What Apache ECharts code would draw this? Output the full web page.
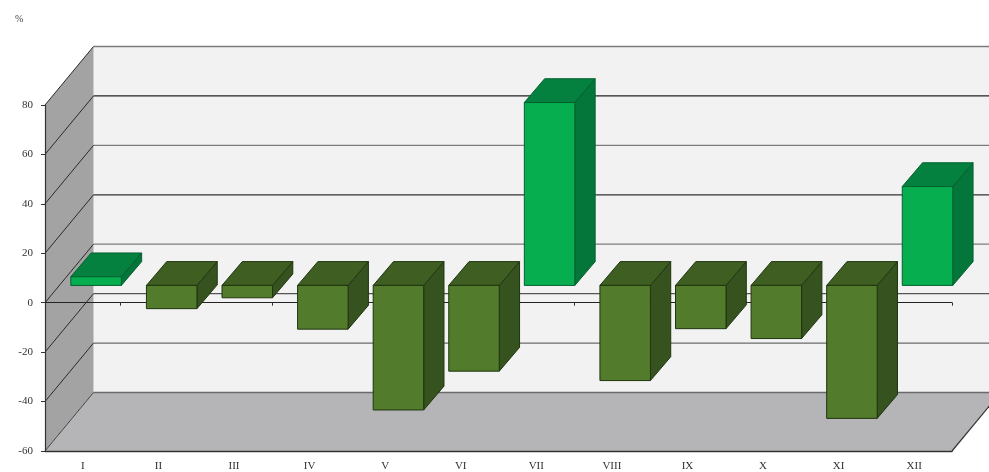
<!DOCTYPE html>
<html><head><meta charset="utf-8">
<style>html,body{margin:0;padding:0;background:#fff}#c{width:989px;height:472px}</style>
<script src="https://cdn.jsdelivr.net/npm/echarts@6/dist/echarts.min.js"></script>
</head><body><div id="c"></div>
<script>
const categories = ['I','II','III','IV','V','VI','VII','VIII','IX','X','XI','XII'];
const values = [3.5,-9.4,-5,-17.7,-50.4,-34.7,74,-38.5,-17.5,-21.5,-53.8,40];
const yTicks = [80,60,40,20,0,-20,-40,-60];
const backLineColors = ['#7c7c7c','#222222','#7c7c7c','#333333','#7c7c7c','#555555','#6a6a6a','#6a6a6a'];
const WALL_DX = 48.5, WALL_DY = -58.5;
const BAR_DX = 20.3, BAR_DY = -23.8, BAR_W = 50.5, BAR_SHIFT_X = 13.3, BAR_SHIFT_Y = -17.3;

const chart = echarts.init(document.getElementById('c'), null, {renderer:'canvas'});
const font = 'Liberation Serif';

function renderWalls(params, api){
  const cs = params.coordSys;
  const x0 = cs.x, x1 = cs.x + cs.width, yt = cs.y, yb = cs.y + cs.height;
  const bx0 = x0 + WALL_DX, bx1 = x1 + WALL_DX, byt = yt + WALL_DY, byb = yb + WALL_DY;
  const poly = (pts, fill) => ({type:'polygon', shape:{points:pts}, style:{fill, stroke:null}});
  return {type:'group', children:[
    poly([[bx0,byt],[bx1,byt],[bx1,byb],[bx0,byb]], '#f2f2f2'),
    poly([[x0,yt],[bx0,byt],[bx0,byb],[x0,yb]], '#a3a3a3'),
    poly([[x0,yb],[bx0,byb],[bx1,byb],[x1,yb]], '#b5b5b7'),
    {type:'line', shape:{x1:x0,y1:yb,x2:bx0,y2:byb}, style:{stroke:'#444',lineWidth:1}},
    {type:'line', shape:{x1:x1,y1:yb,x2:bx1,y2:byb}, style:{stroke:'#333',lineWidth:1.2}}
  ]};
}
function renderWallLine(params, api){
  const cs = params.coordSys;
  const v = api.value(0);
  const y = api.coord([0, v])[1];
  const x0 = cs.x, bx0 = x0 + WALL_DX, bx1 = cs.x + cs.width + WALL_DX, by = y + WALL_DY;
  const children = [
    {type:'line', shape:{x1:bx0,y1:by,x2:bx1,y2:by}, style:{stroke:backLineColors[params.dataIndex],lineWidth:1.3}}
  ];
  if (params.dataIndex < yTicks.length - 1) {
    children.push({type:'line', shape:{x1:x0,y1:y,x2:bx0,y2:by}, style:{stroke:'#2a2a2a',lineWidth:1}});
  }
  return {type:'group', children};
}
function renderBar(params, api){
  const v = api.value(1);
  const c = api.coord([api.value(0), 0]);
  const t = api.coord([api.value(0), v]);
  const x0 = c[0] + BAR_SHIFT_X - BAR_W/2, x1 = x0 + BAR_W;
  const yBase = c[1] + BAR_SHIFT_Y, yEnd = t[1] + BAR_SHIFT_Y;
  const yt = Math.min(yBase, yEnd), yb = Math.max(yBase, yEnd);
  const pos = v >= 0;
  const front = pos ? '#06ae50' : '#527c2c';
  const top = pos ? '#05813f' : '#3f5f22';
  const side = pos ? '#04763a' : '#36521f';
  const edge = pos ? '#03602f' : '#1f3510';
  const st = (fill) => ({fill, stroke:edge, lineWidth:1});
  return {type:'group', children:[
    {type:'polygon', shape:{points:[[x1,yt],[x1+BAR_DX,yt+BAR_DY],[x1+BAR_DX,yb+BAR_DY],[x1,yb]]}, style:st(side)},
    {type:'polygon', shape:{points:[[x0,yt],[x0+BAR_DX,yt+BAR_DY],[x1+BAR_DX,yt+BAR_DY],[x1,yt]]}, style:st(top)},
    {type:'rect', shape:{x:x0,y:yt,width:BAR_W,height:yb-yt}, style:st(front)}
  ]};
}

const axisTxt = {color:'#333', fontFamily:font, fontSize:11};
chart.setOption({
  animation:false,
  backgroundColor:'#fff',
  title:{text:'%', left:10, top:9, textStyle:{color:'#444', fontFamily:font, fontSize:10, fontWeight:'normal'}},
  grid:{left:45, right:37, top:105, bottom:20, containLabel:false},
  xAxis:[
    {type:'category', data:categories, position:'bottom', z:3,
     axisLine:{onZero:false, lineStyle:{color:'#444', width:1.3}}, axisTick:{show:false},
     axisLabel:Object.assign({interval:0, margin:10}, axisTxt), splitLine:{show:false}},
    {type:'category', data:categories, position:'bottom', z:3,
     axisLine:{onZero:true, lineStyle:{color:'#222', width:1.2}},
     axisTick:{show:true, inside:false, length:3, lineStyle:{color:'#333'}},
     axisLabel:{show:false}, splitLine:{show:false}},
    {type:'category', data:categories, position:'bottom', z:7,
     axisLine:{onZero:true, lineStyle:{color:'#111', width:1, opacity:0.4}},
     axisTick:{show:false}, axisLabel:{show:false}, splitLine:{show:false}}
  ],
  yAxis:{type:'value', min:-60, max:80, interval:20, z:3,
    axisLine:{show:true, lineStyle:{color:'#333', width:1.2}},
    axisTick:{show:true, length:4, lineStyle:{color:'#333'}},
    axisLabel:Object.assign({margin:12}, axisTxt), splitLine:{show:false}},
  series:[
    {type:'custom', name:'walls', z:0, silent:true, renderItem:renderWalls, data:[[0,0]], encode:{x:0,y:1}},
    {type:'custom', name:'wall lines', z:1, silent:true, renderItem:renderWallLine, data:yTicks.map(v=>[v]), encode:{y:0}},
    {type:'custom', name:'bars', z:5, renderItem:renderBar, data:categories.map((c,i)=>[i,values[i]]), encode:{x:0,y:1}}
  ]
});
</script></body></html>
